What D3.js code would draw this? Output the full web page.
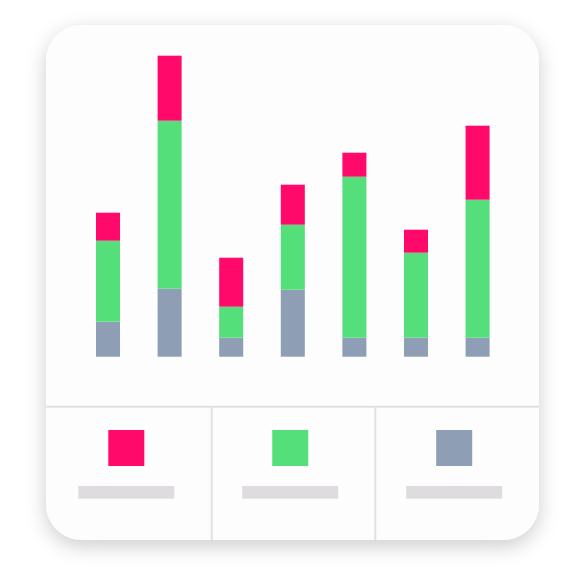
<!DOCTYPE html>
<html>
<head>
<meta charset="utf-8">
<script src="https://cdn.jsdelivr.net/npm/d3@7"></script>
<style>
  html, body { margin: 0; padding: 0; background: #ffffff; }
  svg { display: block; }
</style>
</head>
<body>
<svg id="chart" width="582" height="582"></svg>
<script>
// ---- data ----
const categories = ["A", "B", "C", "D", "E", "F", "G"];
const seriesNames = ["gray", "green", "red"];
const grayValues  = [35, 68, 19, 67, 19, 19, 19];
const greenValues = [81, 168, 31, 65, 161, 85, 138];
const redValues   = [28, 65, 49, 40, 24, 23, 74];
const legendItems = ["red", "green", "gray"];

const colors = { red: "#FF0A6A", green: "#55DF7A", gray: "#8E9EB5" };

const svg = d3.select("#chart");

// shadow filter
const defs = svg.append("defs");
const f = defs.append("filter").attr("id", "shadow")
  .attr("x", "-20%").attr("y", "-20%").attr("width", "140%").attr("height", "140%");
f.append("feDropShadow").attr("dx", 0).attr("dy", 6).attr("stdDeviation", 10)
  .attr("flood-color", "#000").attr("flood-opacity", 0.2);

// card
const card = { x: 46, y: 25, w: 493, h: 515, r: 36 };
svg.append("rect")
  .attr("x", card.x).attr("y", card.y).attr("width", card.w).attr("height", card.h)
  .attr("rx", card.r).attr("ry", card.r)
  .attr("fill", "#FDFDFE").attr("filter", "url(#shadow)");

// dividers
const divY = 406.7;
svg.append("line").attr("x1", card.x).attr("x2", card.x + card.w)
  .attr("y1", divY).attr("y2", divY).attr("stroke", "#E1E1E5").attr("stroke-width", 2);
[211.7, 375.3].forEach(x => {
  svg.append("line").attr("x1", x).attr("x2", x)
    .attr("y1", divY).attr("y2", card.y + card.h).attr("stroke", "#E1E1E5").attr("stroke-width", 2);
});

// scales
const x = d3.scaleBand().domain(categories).range([96, 489.6]).paddingInner(0.61).paddingOuter(0);
const y = d3.scaleLinear().domain([0, 300]).range([356.7, 56.7]);

const table = categories.map((c, i) => ({ cat: c, gray: grayValues[i], green: greenValues[i], red: redValues[i] }));
const stacked = d3.stack().keys(seriesNames)(table);

svg.append("g").selectAll("g").data(stacked).join("g")
  .attr("fill", d => colors[d.key])
  .selectAll("rect").data(d => d).join("rect")
  .attr("x", d => x(d.data.cat))
  .attr("width", x.bandwidth())
  .attr("y", d => y(d[1]))
  .attr("height", d => y(d[0]) - y(d[1]));

// legend
const lx = d3.scalePoint().domain(legendItems).range([126.3, 454.2]);
const lg = svg.append("g").selectAll("g").data(legendItems).join("g");
lg.append("rect")
  .attr("x", d => lx(d) - 18).attr("y", 430).attr("width", 36).attr("height", 36)
  .attr("fill", d => colors[d]);
lg.append("rect")
  .attr("x", d => lx(d) - 48).attr("y", 486).attr("width", 96).attr("height", 12.7)
  .attr("fill", "#DEDCDF");
</script>
</body>
</html>
